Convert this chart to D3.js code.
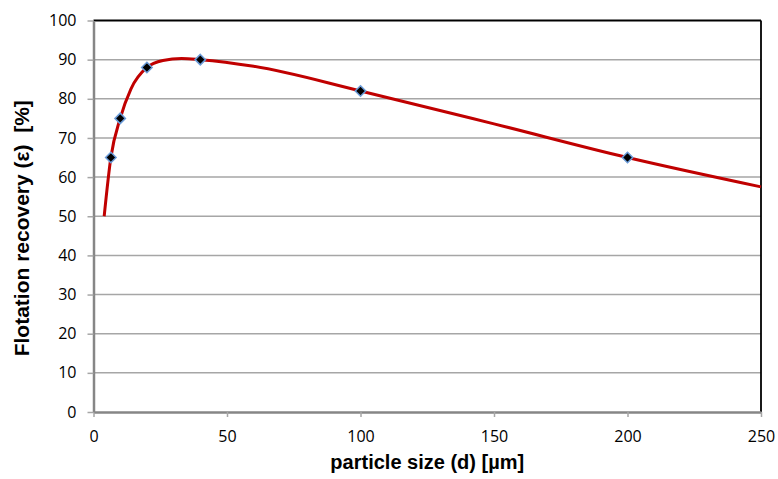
<!DOCTYPE html>
<html>
<head>
<meta charset="utf-8">
<script src="https://cdn.jsdelivr.net/npm/d3@7"></script>
<style>
  body { margin: 0; background: #fff; }
</style>
</head>
<body>
<div class="chart"></div>
<script>
  const width = 778;
  const height = 479;
  const margin = { top: 20.5, right: 17, bottom: 67, left: 93.5 };

  // measured points
  const sizes = [6.5, 10, 20, 40, 100, 200];
  const recovery = [65, 75, 88, 90, 82, 65];

  // smooth trend curve
  const curveX = [4, 6.5, 10, 14, 20, 26, 33, 40, 60, 100, 150, 200, 250];
  const curveY = [50, 65, 75, 82.5, 88, 89.8, 90.3, 90, 88.3, 82, 73.6, 65, 57.5];

  const xTicks = [0, 50, 100, 150, 200, 250];
  const yTicks = [0, 10, 20, 30, 40, 50, 60, 70, 80, 90, 100];

  const xScale = d3.scaleLinear()
    .domain([0, 250])
    .range([margin.left, width - margin.right])

  const yScale = d3.scaleLinear()
    .domain([0, 100])
    .range([height - margin.bottom, margin.top])

  const svg = d3.select('.chart').append('svg')
    .attr('width', width)
    .attr('height', height)

  // gridlines
  svg.append('g')
    .selectAll('line')
    .data(yTicks.filter(d => d > 0 && d < 100))
    .join('line')
    .attr('x1', xScale(0))
    .attr('x2', xScale(250))
    .attr('y1', d => yScale(d))
    .attr('y2', d => yScale(d))
    .attr('stroke', '#a6a6a6')
    .attr('stroke-width', 1.5)

  // top and right border
  svg.append('line')
    .attr('x1', xScale(0)).attr('x2', xScale(250))
    .attr('y1', yScale(100)).attr('y2', yScale(100))
    .attr('stroke', '#000').attr('stroke-width', 1.8)
  svg.append('line')
    .attr('x1', xScale(250)).attr('x2', xScale(250))
    .attr('y1', yScale(100)).attr('y2', yScale(0))
    .attr('stroke', '#000').attr('stroke-width', 1.8)

  const xAxis = d3.axisBottom(xScale)
    .tickValues(xTicks)
    .tickSize(5)
    .tickSizeOuter(0)
    .tickPadding(14)

  const yAxis = d3.axisLeft(yScale)
    .tickValues(yTicks)
    .tickSize(6)
    .tickSizeOuter(0)
    .tickPadding(11)

  const gx = svg.append('g')
    .attr('transform', `translate(0, ${yScale(0)})`)
    .call(xAxis)
  const gy = svg.append('g')
    .attr('transform', `translate(${xScale(0)}, 0)`)
    .call(yAxis)

  for (const g of [gx, gy]) {
    g.select('.domain').attr('stroke', '#868686').attr('stroke-width', 2.5)
    g.selectAll('.tick line').attr('stroke', '#a6a6a6').attr('stroke-width', 1.5)
    g.selectAll('.tick text')
      .attr('fill', '#000')
      .style('font-size', '16px')
      .style('font-family', 'Open Sans, sans-serif')
  }

  // trend curve
  const line = d3.line()
    .x(d => xScale(d[0]))
    .y(d => yScale(d[1]))
    .curve(d3.curveMonotoneX)

  svg.append('path')
    .datum(curveX.map((x, i) => [x, curveY[i]]))
    .attr('d', line)
    .attr('fill', 'none')
    .attr('stroke', '#c00000')
    .attr('stroke-width', 3)

  // markers
  svg.append('g')
    .selectAll('path')
    .data(sizes.map((x, i) => [x, recovery[i]]))
    .join('path')
    .attr('transform', d => `translate(${xScale(d[0])}, ${yScale(d[1])})`)
    .attr('d', d3.symbol(d3.symbolDiamond2, 70))
    .attr('fill', '#000')
    .attr('stroke', '#6a9bd8')
    .attr('stroke-width', 1.5)

  // axis titles
  svg.append('text')
    .attr('x', (xScale(0) + xScale(250)) / 2)
    .attr('y', 469)
    .attr('text-anchor', 'middle')
    .style('font-family', 'Liberation Sans, Arial, sans-serif')
    .style('font-weight', 'bold')
    .style('font-size', '20px')
    .text('particle size (d) [µm]')

  svg.append('text')
    .attr('transform', `translate(29, ${(yScale(0) + yScale(100)) / 2 + 12}) rotate(-90)`)
    .attr('text-anchor', 'middle')
    .style('font-family', 'Liberation Sans, Arial, sans-serif')
    .style('font-weight', 'bold')
    .style('font-size', '21px')
    .style('white-space', 'pre')
    .text('Flotation recovery (ε)  [%]')
</script>
</body>
</html>
